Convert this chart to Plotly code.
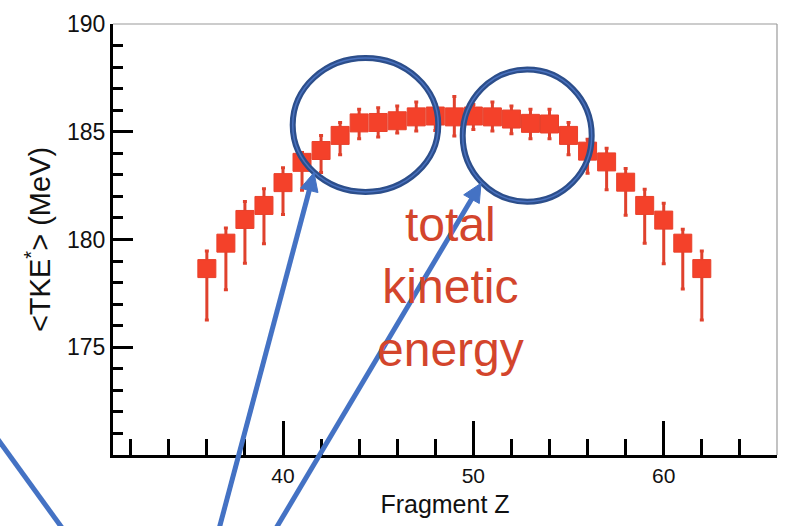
import math
import plotly.graph_objects as go

# ---------------- data ----------------
fragment_z = [36, 37, 38, 39, 40, 41, 42, 43, 44, 45, 46, 47, 48, 49,
              50, 51, 52, 53, 54, 55, 56, 57, 58, 59, 60, 61, 62]
tke_mean = [178.65, 179.83, 180.93, 181.58, 182.64, 183.58, 184.13, 184.83,
            185.41, 185.43, 185.51, 185.69, 185.73, 185.69, 185.73, 185.69,
            185.59, 185.39, 185.36, 184.83, 184.10, 183.60, 182.66, 181.58,
            180.90, 179.83, 178.65]
tke_upper = [179.47, 180.53, 181.76, 182.36, 183.33, 184.04, 184.83, 185.43,
             186.04, 186.11, 186.19, 186.38, 186.26, 186.64, 186.26, 186.38,
             186.19, 186.04, 186.04, 185.43, 184.65, 184.23, 183.29, 182.33,
             181.68, 180.48, 179.47]
tke_lower = [176.26, 177.67, 178.90, 179.80, 181.16, 182.28, 183.11, 183.93,
             184.68, 184.76, 184.94, 185.03, 185.06, 184.80, 185.10, 185.03,
             184.91, 184.68, 184.68, 183.93, 183.08, 182.31, 181.13, 179.83,
             178.87, 177.70, 176.26]
y_tick_values = [175, 180, 185, 190]
x_tick_values = [40, 50, 60]
x_title = "Fragment Z"
y_title = "&lt;TKE<sup>*</sup>&gt; (MeV)"
note_text = "total<br>kinetic<br>energy"

err_plus = [u - m for u, m in zip(tke_upper, tke_mean)]
err_minus = [m - l for m, l in zip(tke_mean, tke_lower)]

# ---------------- layout geometry ----------------
W, H = 788, 526
ML, MR, MT, MB = 113, 11, 17, 65
PW, PH = W - ML - MR, H - MT - MB


def px(x):
    return (x - ML) / PW


def py(y):
    return 1 - (y - MT) / PH


FONT = "Liberation Sans, Arial, Helvetica, sans-serif"
INK = "#111111"

fig = go.Figure()
fig.add_trace(go.Scatter(
    x=fragment_z, y=tke_mean, mode="markers",
    marker=dict(symbol="square", size=18, color="#f4412a",
                line=dict(color="#e8402b", width=1)),
    error_y=dict(type="data", symmetric=False, array=err_plus,
                 arrayminus=err_minus, color="#e0412d", thickness=3, width=2),
    showlegend=False, hoverinfo="skip",
))

fig.update_layout(
    width=W, height=H,
    margin=dict(l=ML, r=MR, t=MT, b=MB, pad=0),
    paper_bgcolor="white", plot_bgcolor="white",
    font=dict(family=FONT, color=INK),
    xaxis=dict(
        range=[31.07, 65.95], tickmode="array", tickvals=x_tick_values,
        ticks="inside", ticklen=34, tickwidth=2.5, tickcolor="black",
        minor=dict(tickmode="linear", tick0=0, dtick=2, ticks="inside",
                   ticklen=16, tickwidth=2.5, tickcolor="black"),
        showline=True, linecolor="black", linewidth=3, mirror=False,
        showgrid=False, zeroline=False,
        tickfont=dict(size=21, family=FONT, color=INK),
        title=dict(text=x_title, font=dict(size=25, family=FONT, color=INK),
                   standoff=10),
    ),
    yaxis=dict(
        range=[170, 190], tickmode="array", tickvals=y_tick_values,
        ticks="inside", ticklen=20, tickwidth=3, tickcolor="black",
        minor=dict(tickmode="linear", tick0=0, dtick=1, ticks="inside",
                   ticklen=10, tickwidth=3, tickcolor="black"),
        showline=True, linecolor="black", linewidth=3, mirror=False,
        showgrid=False, zeroline=False,
        tickfont=dict(size=23, family=FONT, color=INK),
        title=dict(text=y_title, font=dict(size=29, family=FONT, color=INK),
                   standoff=8),
    ),
)

# thin grey frame on top and right
shapes = [
    dict(type="line", xref="paper", yref="paper", x0=0, x1=1, y0=1, y1=1,
         line=dict(color="#9a9a9a", width=1.2)),
    dict(type="line", xref="paper", yref="paper", x0=1, x1=1, y0=0, y1=1,
         line=dict(color="#9a9a9a", width=1.2)),
]
# highlight ellipses (pixel boxes)
for (x0, y0, x1, y1) in [(292.7, 52, 438.3, 190), (462.7, 64, 591.7, 200)]:
    shapes.append(dict(type="circle", xref="paper", yref="paper",
                       x0=px(x0), x1=px(x1), y0=py(y1), y1=py(y0),
                       line=dict(color="#2c4e8b", width=6)))
    shapes.append(dict(type="circle", xref="paper", yref="paper",
                       x0=px(x0), x1=px(x1), y0=py(y1), y1=py(y0),
                       line=dict(color="#4a72bf", width=1.5)))
# stray line at bottom-left
shapes.append(dict(type="line", xref="paper", yref="paper",
                   x0=px(-2), y0=py(445), x1=px(62), y1=py(536),
                   line=dict(color="#4472c4", width=5)))

# arrows drawn as line + triangular head
ARROW = "#4472c4"
HEAD_LEN, HEAD_HALF = 19, 9
for (tx, ty, bx, by) in [(314, 170, 218.3, 540), (481, 181, 274, 540)]:
    dx, dy = tx - bx, ty - by
    L = math.hypot(dx, dy)
    ux, uy = dx / L, dy / L
    nx, ny = -uy, ux
    hx, hy = tx - ux * HEAD_LEN, ty - uy * HEAD_LEN
    shapes.append(dict(type="line", xref="paper", yref="paper",
                       x0=px(bx), y0=py(by), x1=px(hx + ux * 2), y1=py(hy + uy * 2),
                       line=dict(color=ARROW, width=5)))
    p1 = (hx + nx * HEAD_HALF, hy + ny * HEAD_HALF)
    p2 = (hx - nx * HEAD_HALF, hy - ny * HEAD_HALF)
    path = (f"M {px(tx)},{py(ty)} L {px(p1[0])},{py(p1[1])} "
            f"L {px(p2[0])},{py(p2[1])} Z")
    shapes.append(dict(type="path", xref="paper", yref="paper", path=path,
                       fillcolor=ARROW, line=dict(color=ARROW, width=1)))
fig.update_layout(shapes=shapes)

# note text
fig.add_annotation(x=px(450), y=py(288), xref="paper", yref="paper",
                   text=note_text, showarrow=False, align="center",
                   xanchor="center", yanchor="middle",
                   font=dict(size=48, family=FONT, color="#d3452c"))

fig.write_html("out.html")
